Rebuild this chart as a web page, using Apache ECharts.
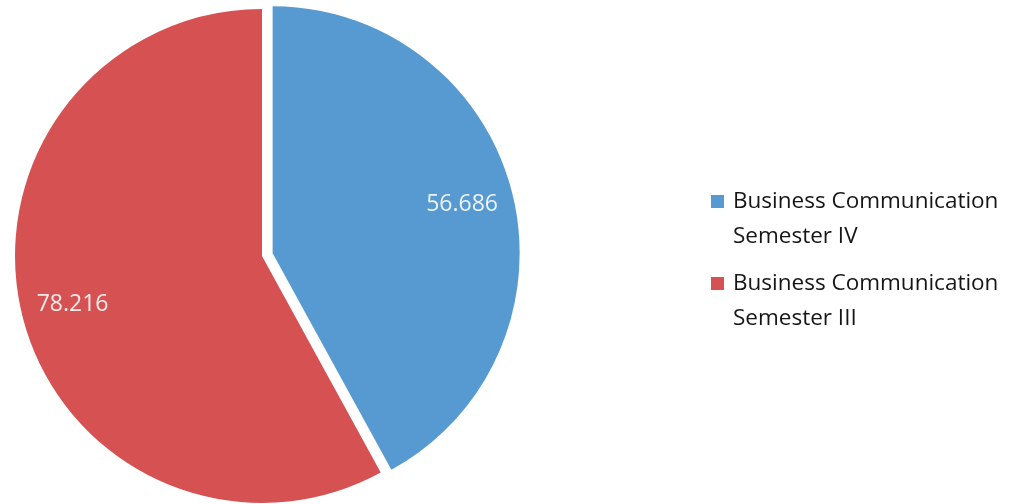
<!DOCTYPE html>
<html>
<head>
<meta charset="utf-8">
<script src="https://cdn.jsdelivr.net/npm/echarts@6/dist/echarts.min.js"></script>
<style>
html,body{margin:0;padding:0;background:#fff;}
#chart{width:1010px;height:504px;}
</style>
</head>
<body>
<div id="chart"></div>
<script>
const categories = ['Business Communication\nSemester IV', 'Business Communication\nSemester III'];
const values = [56.686, 78.216];
const colors = ['#5799D1', '#D65252'];
const explodedIndex = 0;

const pieData = categories.map((name, i) => ({
  name: name,
  value: values[i],
  selected: i === explodedIndex,
  itemStyle: { color: colors[i] }
}));
const labelData = categories.map((name, i) => ({
  name: name,
  value: values[i],
  selected: i === explodedIndex,
  itemStyle: { color: 'rgba(0,0,0,0)' }
}));

const chart = echarts.init(document.getElementById('chart'), null, { renderer: 'canvas' });
const font = '"Open Sans", "DejaVu Sans", sans-serif';
chart.setOption({
  animation: false,
  backgroundColor: '#ffffff',
  legend: {
    orient: 'vertical',
    left: 706,
    top: 179,
    itemGap: 12,
    itemWidth: 13,
    itemHeight: 48,
    icon: 'path://M0,0h13v13h-13Z M0,47.95h0.05v0.05h-0.05Z',
    selectedMode: false,
    data: categories,
    textStyle: {
      fontFamily: font,
      fontSize: 22.5,
      lineHeight: 35,
      color: '#161616',
      padding: [0, 0, 0, 4]
    }
  },
  series: [
    {
      type: 'pie',
      center: [262, 256],
      radius: [0, 247],
      startAngle: 90,
      clockwise: true,
      selectedMode: 'single',
      selectedOffset: 11,
      silent: true,
      label: { show: false },
      labelLine: { show: false },
      data: pieData
    },
    {
      type: 'pie',
      center: [262, 256],
      radius: [138, 247],
      startAngle: 90,
      clockwise: true,
      selectedMode: 'single',
      selectedOffset: 11,
      silent: true,
      label: {
        show: true,
        position: 'inside',
        formatter: p => p.value.toFixed(3),
        fontFamily: font,
        fontSize: 23,
        color: 'rgba(255,255,255,0.88)'
      },
      labelLine: { show: false },
      data: labelData
    }
  ]
});
</script>
</body>
</html>
